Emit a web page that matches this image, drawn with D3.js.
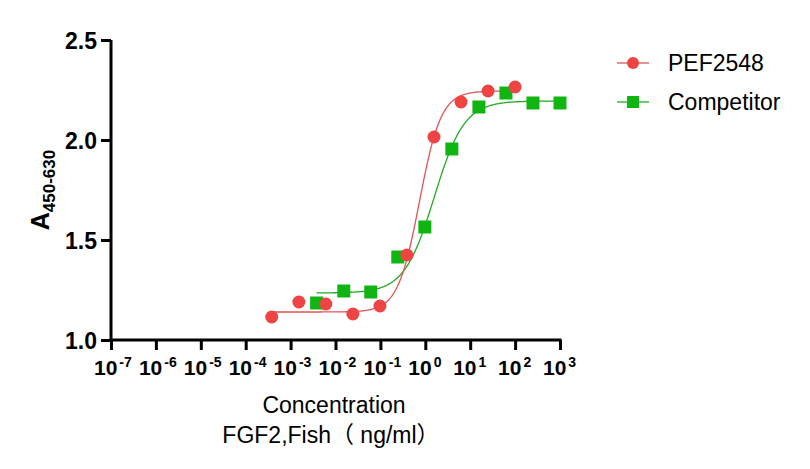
<!DOCTYPE html>
<html>
<head>
<meta charset="utf-8">
<script src="https://cdn.jsdelivr.net/npm/d3@7"></script>
<style>
  body { margin: 0; background: #fff; }
  svg { display: block; font-family: "Liberation Sans", Arial, "Noto Sans CJK SC", sans-serif; }
</style>
</head>
<body>
<div id="chart"></div>
<script>
// --- data ---
const seriesNames = ["PEF2548", "Competitor"];
const colors = ["#ef4444", "#11b511"];
const lineColors = ["#e05555", "#22aa22"];

// concentrations (ng/ml), 4-fold dilutions
const pefConc = [0.00038, 0.00153, 0.0061, 0.0244, 0.0977, 0.39, 1.5625, 6.25, 25, 100];
const pefAbs  = [1.115, 1.19, 1.18, 1.13, 1.17, 1.425, 2.015, 2.19, 2.245, 2.265];

const compConc = [0.0038, 0.0153, 0.061, 0.244, 0.977, 3.906, 15.625, 62.5, 250, 1000];
const compAbs  = [1.185, 1.245, 1.24, 1.415, 1.565, 1.955, 2.165, 2.235, 2.185, 2.185];

// 4PL fit parameters: bottom, top, logEC50, hill
const pefFit  = [1.14, 2.245, -0.13, 1.8];
const compFit = [1.235, 2.195, 0.2, 1.3];

const xTicksExp = [-7, -6, -5, -4, -3, -2, -1, 0, 1, 2, 3];
const yTicks = [1.0, 1.5, 2.0, 2.5];

// --- setup ---
const W = 810, H = 469;
const svg = d3.select("#chart").append("svg").attr("width", W).attr("height", H);

const x = d3.scaleLog().domain([1e-7, 1e3]).range([111, 560]);
const y = d3.scaleLinear().domain([1, 2.5]).range([340, 40]);

// --- axes ---
const yAxis = svg.append("g").attr("transform", `translate(${x.range()[0]},0)`)
  .call(d3.axisLeft(y).tickValues(yTicks).tickFormat(d3.format(".1f")).tickSize(10).tickSizeOuter(0));
yAxis.select(".domain").attr("stroke-width", 3).attr("d", `M0,${y(2.5)}V${y(1) + 1.5}`);
yAxis.selectAll(".tick line").attr("stroke-width", 3);
yAxis.selectAll(".tick text").attr("x", -14).attr("dy", "0.36em").attr("font-family", null)
  .attr("font-size", 23).attr("font-weight", "bold").attr("fill", "#000");

const xAxis = svg.append("g").attr("transform", `translate(0,${y.range()[0]})`)
  .call(d3.axisBottom(x).tickValues(xTicksExp.map(e => Math.pow(10, e))).tickFormat("").tickSize(10).tickSizeOuter(0));
xAxis.select(".domain").attr("stroke-width", 3).attr("d", `M${x.range()[0] - 1.5},0H${x.range()[1] + 1.5}`);
xAxis.selectAll(".tick line").attr("stroke-width", 3);

// tick labels 10^n
const xl = svg.append("g");
xTicksExp.forEach(e => {
  const t = xl.append("text").attr("font-weight", "bold").attr("font-size", 21)
    .attr("x", x(Math.pow(10, e)) - 17).attr("y", 375).attr("text-anchor", "start");
  t.append("tspan").text("10");
  t.append("tspan").attr("font-size", 14).attr("dy", -8).attr("dx", 2).text(e);
});

// axis titles
svg.append("text").attr("x", 334).attr("y", 413).attr("text-anchor", "middle")
  .attr("font-size", 23).text("Concentration");
svg.append("text").attr("x", 331).attr("y", 443).attr("text-anchor", "middle")
  .attr("font-size", 23).text("FGF2,Fish\uFF08 ng/ml\uFF09");

const yt = svg.append("text").attr("transform", "translate(49,190) rotate(-90)")
  .attr("text-anchor", "middle").attr("font-weight", "bold");
yt.append("tspan").attr("font-size", 25).text("A");
yt.append("tspan").attr("font-size", 17).attr("dy", 6).text("450-630");

// --- fitted curves ---
function fourPL(p) {
  return lx => p[0] + (p[1] - p[0]) / (1 + Math.pow(10, (p[2] - lx) * p[3]));
}
function fitLine(conc, p, color) {
  const f = fourPL(p);
  const lo = Math.log10(d3.min(conc)), hi = Math.log10(d3.max(conc));
  const xs = d3.range(lo, hi, (hi - lo) / 300).concat([hi]);
  svg.append("path").datum(xs)
    .attr("fill", "none").attr("stroke", color).attr("stroke-width", 1.3)
    .attr("d", d3.line().x(lx => x(Math.pow(10, lx))).y(lx => y(f(lx))));
}
fitLine(compConc, compFit, lineColors[1]);
fitLine(pefConc, pefFit, lineColors[0]);

// --- points ---
const pef = pefConc.map((c, i) => ({c, a: pefAbs[i]}));
const comp = compConc.map((c, i) => ({c, a: compAbs[i]}));

svg.append("g").selectAll("rect").data(comp).enter().append("rect")
  .attr("x", d => x(d.c) - 6.5).attr("y", d => y(d.a) - 6.5)
  .attr("width", 13).attr("height", 13).attr("fill", colors[1]);

svg.append("g").selectAll("circle").data(pef).enter().append("circle")
  .attr("cx", d => x(d.c)).attr("cy", d => y(d.a)).attr("r", 6.5).attr("fill", colors[0]);

// --- legend ---
const lg = svg.append("g");
seriesNames.forEach((name, i) => {
  const ly = 63 + i * 39;
  lg.append("line").attr("x1", 617).attr("x2", 649).attr("y1", ly).attr("y2", ly)
    .attr("stroke", lineColors[i]).attr("stroke-width", 1.3);
  if (i === 0) {
    lg.append("circle").attr("cx", 633).attr("cy", ly).attr("r", 6).attr("fill", colors[i]);
  } else {
    lg.append("rect").attr("x", 627).attr("y", ly - 6).attr("width", 12).attr("height", 12).attr("fill", colors[i]);
  }
  lg.append("text").attr("x", 668).attr("y", ly + 8).attr("font-size", 23).text(name);
});
</script>
</body>
</html>
